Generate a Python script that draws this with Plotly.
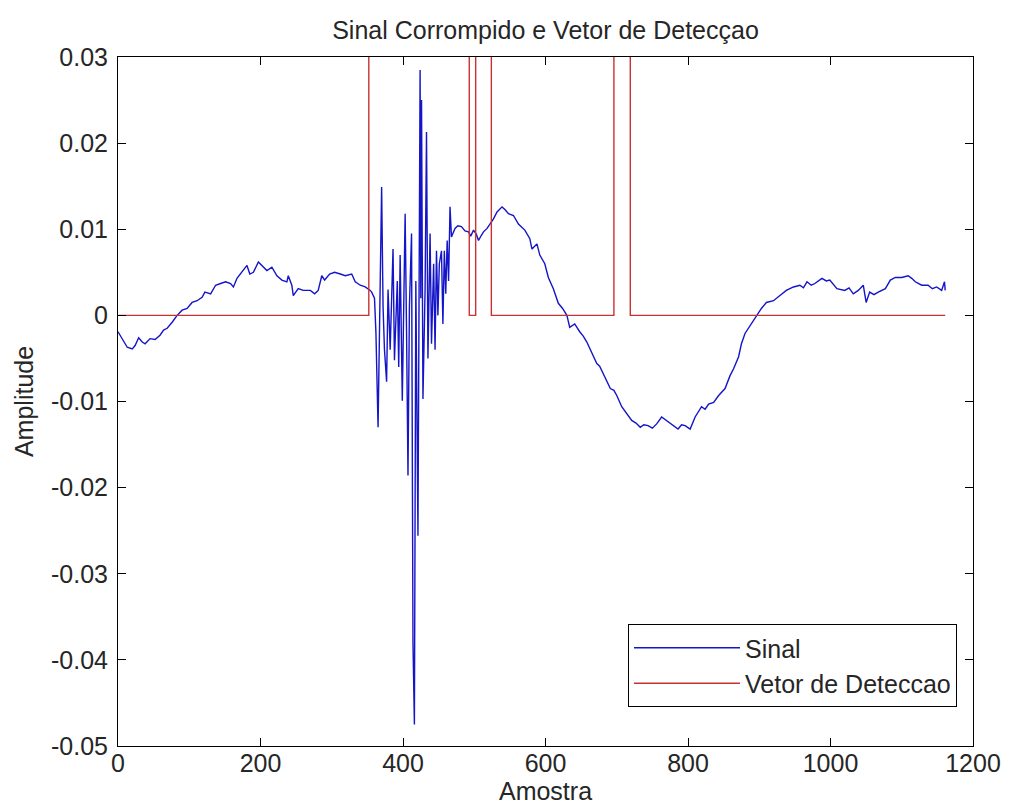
import plotly.graph_objects as go

# ---- data ----
sig_x = [0, 6, 13, 20, 24, 29, 34, 38, 45, 52, 59, 64, 69, 76, 83, 90, 97, 104, 111, 118,
         122, 130, 137, 144, 151, 158, 162, 167, 172, 176, 181, 185, 190, 197, 204, 209, 216,
         223, 230, 237, 239, 244, 246, 253, 260, 270, 276, 281, 286, 290, 297, 304, 312, 319,
         328, 333, 340, 347, 354,
         356, 360, 362, 365, 367, 370, 372, 374, 377, 379, 382, 384, 386, 388, 390, 392, 394,
         396, 399, 401, 403, 405, 407, 409, 412, 414, 416, 418, 421, 424, 425, 426, 428, 431,
         433, 435, 438, 440, 443, 445, 447, 449, 451, 454, 456, 458, 460, 462, 464, 466, 468,
         470, 473, 477,
         482, 487, 492, 495, 499, 503, 506, 510, 513, 518, 522, 527, 532, 539, 543, 548, 555,
         562, 566, 571, 578, 581, 588, 592, 599, 604, 611, 618, 624, 630, 634, 641, 648, 653,
         658, 665, 672, 676, 681, 691, 696, 700, 707,
         712, 721, 727, 733, 738, 744, 750, 756, 763, 770, 777, 782, 786, 791, 796, 803, 810,
         819, 824, 829, 836, 843, 852, 859, 864, 871, 875, 880, 887, 896, 903, 910, 920, 929,
         938, 948, 957, 962, 967, 973, 978, 988, 994, 999, 1009, 1020, 1026, 1032, 1039, 1046,
         1050, 1055, 1061, 1067, 1077, 1084, 1091, 1100, 1109, 1114, 1119, 1128, 1137, 1143,
         1149, 1156, 1160, 1161]
sig_y = [-0.0019, -0.0027, -0.0037, -0.0039, -0.0035, -0.0026, -0.0031, -0.0033, -0.0027,
         -0.0028, -0.0023, -0.0017, -0.0015, -0.0008, 0.0, 0.0006, 0.0008, 0.0015, 0.0017,
         0.0021, 0.0027, 0.0025, 0.0035, 0.0037, 0.0039, 0.0037, 0.0033, 0.0043, 0.0048,
         0.0052, 0.0058, 0.0048, 0.005, 0.0062, 0.0056, 0.0052, 0.0056, 0.0046, 0.0041,
         0.0039, 0.0046, 0.0035, 0.0023, 0.0031, 0.0029, 0.0029, 0.0025, 0.0029, 0.0046,
         0.0041, 0.0048, 0.005, 0.0048, 0.0046, 0.0048, 0.0039, 0.0035, 0.0033, 0.0029,
         0.0027, 0.002, -0.002, -0.013, -0.003, 0.0149, 0.001, -0.004, -0.0077, 0.003, -0.004,
         0.002, 0.0077, -0.0052, 0.001, 0.004, -0.006, 0.007, -0.0099, 0.002, 0.0118, -0.002,
         -0.0186, 0.001, 0.0095, -0.038, -0.0475, 0.004, -0.0256, 0.0285, 0.002, 0.025,
         -0.0097, 0.003, 0.0213, -0.005, 0.0095, -0.0033, 0.006, -0.004, 0.0075, 0.0, 0.006,
         0.0075, -0.001, 0.0075, 0.0025, 0.0087, 0.004, 0.0126, 0.0091, 0.0095, 0.0101, 0.0104,
         0.0103, 0.0098, 0.0097, 0.0092, 0.0099, 0.0094, 0.0087, 0.0093, 0.0097, 0.0101,
         0.0106, 0.0112, 0.012, 0.0126, 0.0123, 0.0118, 0.0116, 0.0106, 0.0103, 0.0099,
         0.0089, 0.0077, 0.0083, 0.007, 0.006, 0.0044, 0.0031, 0.0014, 0.0008, 0.0, -0.0014,
         -0.001, -0.0019, -0.0024, -0.0031, -0.0044, -0.0056, -0.0059, -0.0068, -0.0085,
         -0.0087, -0.0093, -0.0106,
         -0.0112, -0.0122, -0.0125, -0.013, -0.0127, -0.0128, -0.0131, -0.0126, -0.0118,
         -0.0122, -0.0126, -0.0129, -0.0132, -0.0127, -0.0128, -0.0132, -0.0118, -0.0106,
         -0.0109, -0.0103, -0.0101, -0.0093, -0.0085, -0.007, -0.0062, -0.0048, -0.0033,
         -0.0021, -0.0012, 0.0, 0.0008, 0.0015, 0.0017, 0.0023, 0.0029, 0.0033, 0.0035,
         0.0032, 0.0039, 0.0035, 0.0037, 0.0043, 0.004, 0.0041, 0.0031, 0.0029, 0.0032,
         0.0025, 0.0029, 0.0035, 0.0015, 0.0027, 0.0024, 0.0027, 0.0031, 0.0041, 0.0044,
         0.0044, 0.0046, 0.0043, 0.0039, 0.0035, 0.0035, 0.0031, 0.0033, 0.0029, 0.0039,
         0.0029]

det_x = [1, 352, 493, 502, 524, 696, 719, 1161]
det_y = [0, 1, 0, 1, 0, 1, 0, 0]

x_ticks = [0, 200, 400, 600, 800, 1000, 1200]
y_ticks = [-0.05, -0.04, -0.03, -0.02, -0.01, 0, 0.01, 0.02, 0.03]
y_tick_text = ["-0.05", "-0.04", "-0.03", "-0.02", "-0.01", "0", "0.01", "0.02", "0.03"]

FONT = "Liberation Sans, Arial, sans-serif"
FS = 25
TXT = "#262626"

fig = go.Figure()
fig.add_trace(go.Scatter(x=sig_x, y=sig_y, mode="lines", name="Sinal",
                         line=dict(color="#1414c8", width=1.4)))
fig.add_trace(go.Scatter(x=det_x, y=det_y, mode="lines", name="Vetor de Deteccao",
                         line=dict(color="#c83232", width=1.4, shape="hv")))

axis_common = dict(showline=True, linecolor="black", linewidth=1, mirror="ticks",
                   ticks="inside", ticklen=8, tickcolor="black", showgrid=False,
                   zeroline=False, automargin=False,
                   tickfont=dict(family=FONT, size=FS, color=TXT))

fig.update_layout(
    width=1015, height=809,
    margin=dict(l=118, r=42, t=57, b=63, autoexpand=False),
    paper_bgcolor="white", plot_bgcolor="white",
    font=dict(family=FONT, size=FS, color=TXT),
    title=dict(text="Sinal Corrompido e Vetor de Detecçao", x=0.5, xref="paper",
               y=1 - 30 / 809, yref="container", xanchor="center", yanchor="middle",
               font=dict(family=FONT, size=FS, color=TXT)),
    xaxis=dict(range=[0, 1200], tickvals=x_ticks, ticklabelstandoff=-5,
               title=dict(text="Amostra", standoff=4, font=dict(family=FONT, size=FS)),
               **axis_common),
    yaxis=dict(range=[-0.05, 0.03], tickvals=y_ticks, ticktext=y_tick_text,
               ticklabelstandoff=4,
               title=dict(text="Amplitude", standoff=10, font=dict(family=FONT, size=FS)),
               **axis_common),
    legend=dict(x=0.9813, y=0.0566, xanchor="right", yanchor="bottom",
                bgcolor="white", bordercolor="black", borderwidth=1,
                font=dict(family=FONT, size=FS, color=TXT), itemwidth=106,
                tracegroupgap=0),
    showlegend=True,
)

fig.write_html("out.html")
